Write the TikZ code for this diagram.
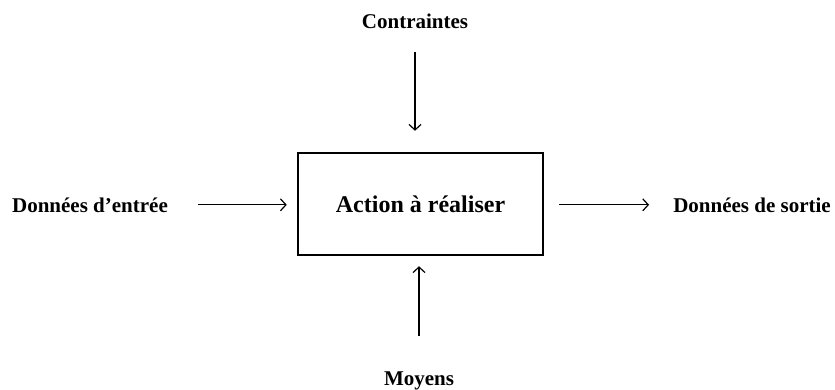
\documentclass[tikz,border=0pt]{standalone}
\usepackage{fontspec}
\setmainfont{Liberation Serif}
\usetikzlibrary{arrows.meta}

\tikzstyle{action} = [rectangle, minimum width=245pt, minimum height=102pt, text centered, draw=black, line width=2.5pt, font=\fontsize{24}{28}\selectfont\bfseries]
\tikzstyle{libelle} = [inner sep=0pt, anchor=base, font=\fontsize{21}{25}\selectfont\bfseries]
\tikzstyle{arrow} = [line width=1.2pt,-{Straight Barb[length=5.5pt,width=12pt]}]

\begin{document}
\begin{tikzpicture}[x=1pt, y=-1pt]
\useasboundingbox (0,0) rectangle (835,390);

% Bloc principal
\node (action) [action] at (420.5,204) {Action à réaliser};

% Entrées, sorties, contraintes et moyens
\node (entree) [libelle] at (90,212) {Données d’entrée};
\node (sortie) [libelle] at (752,212) {Données de sortie};
\node (contraintes) [libelle] at (415,29) {Contraintes};
\node (moyens) [libelle] at (419,385) {Moyens};

% Flèches
\draw [arrow, shorten <=30pt, shorten >=10pt] (entree.east) -- (entree.east -| action.west);
\draw [arrow, shorten <=15pt, shorten >=24pt] (action.east |- sortie.west) -- (sortie.west);
\draw [arrow, shorten <=23pt, shorten >=21pt] (contraintes.south) -- (contraintes.south |- action.north);
\draw [arrow, shorten <=35pt, shorten >=10pt] (moyens.north) -- (moyens.north |- action.south);

\end{tikzpicture}
\end{document}
